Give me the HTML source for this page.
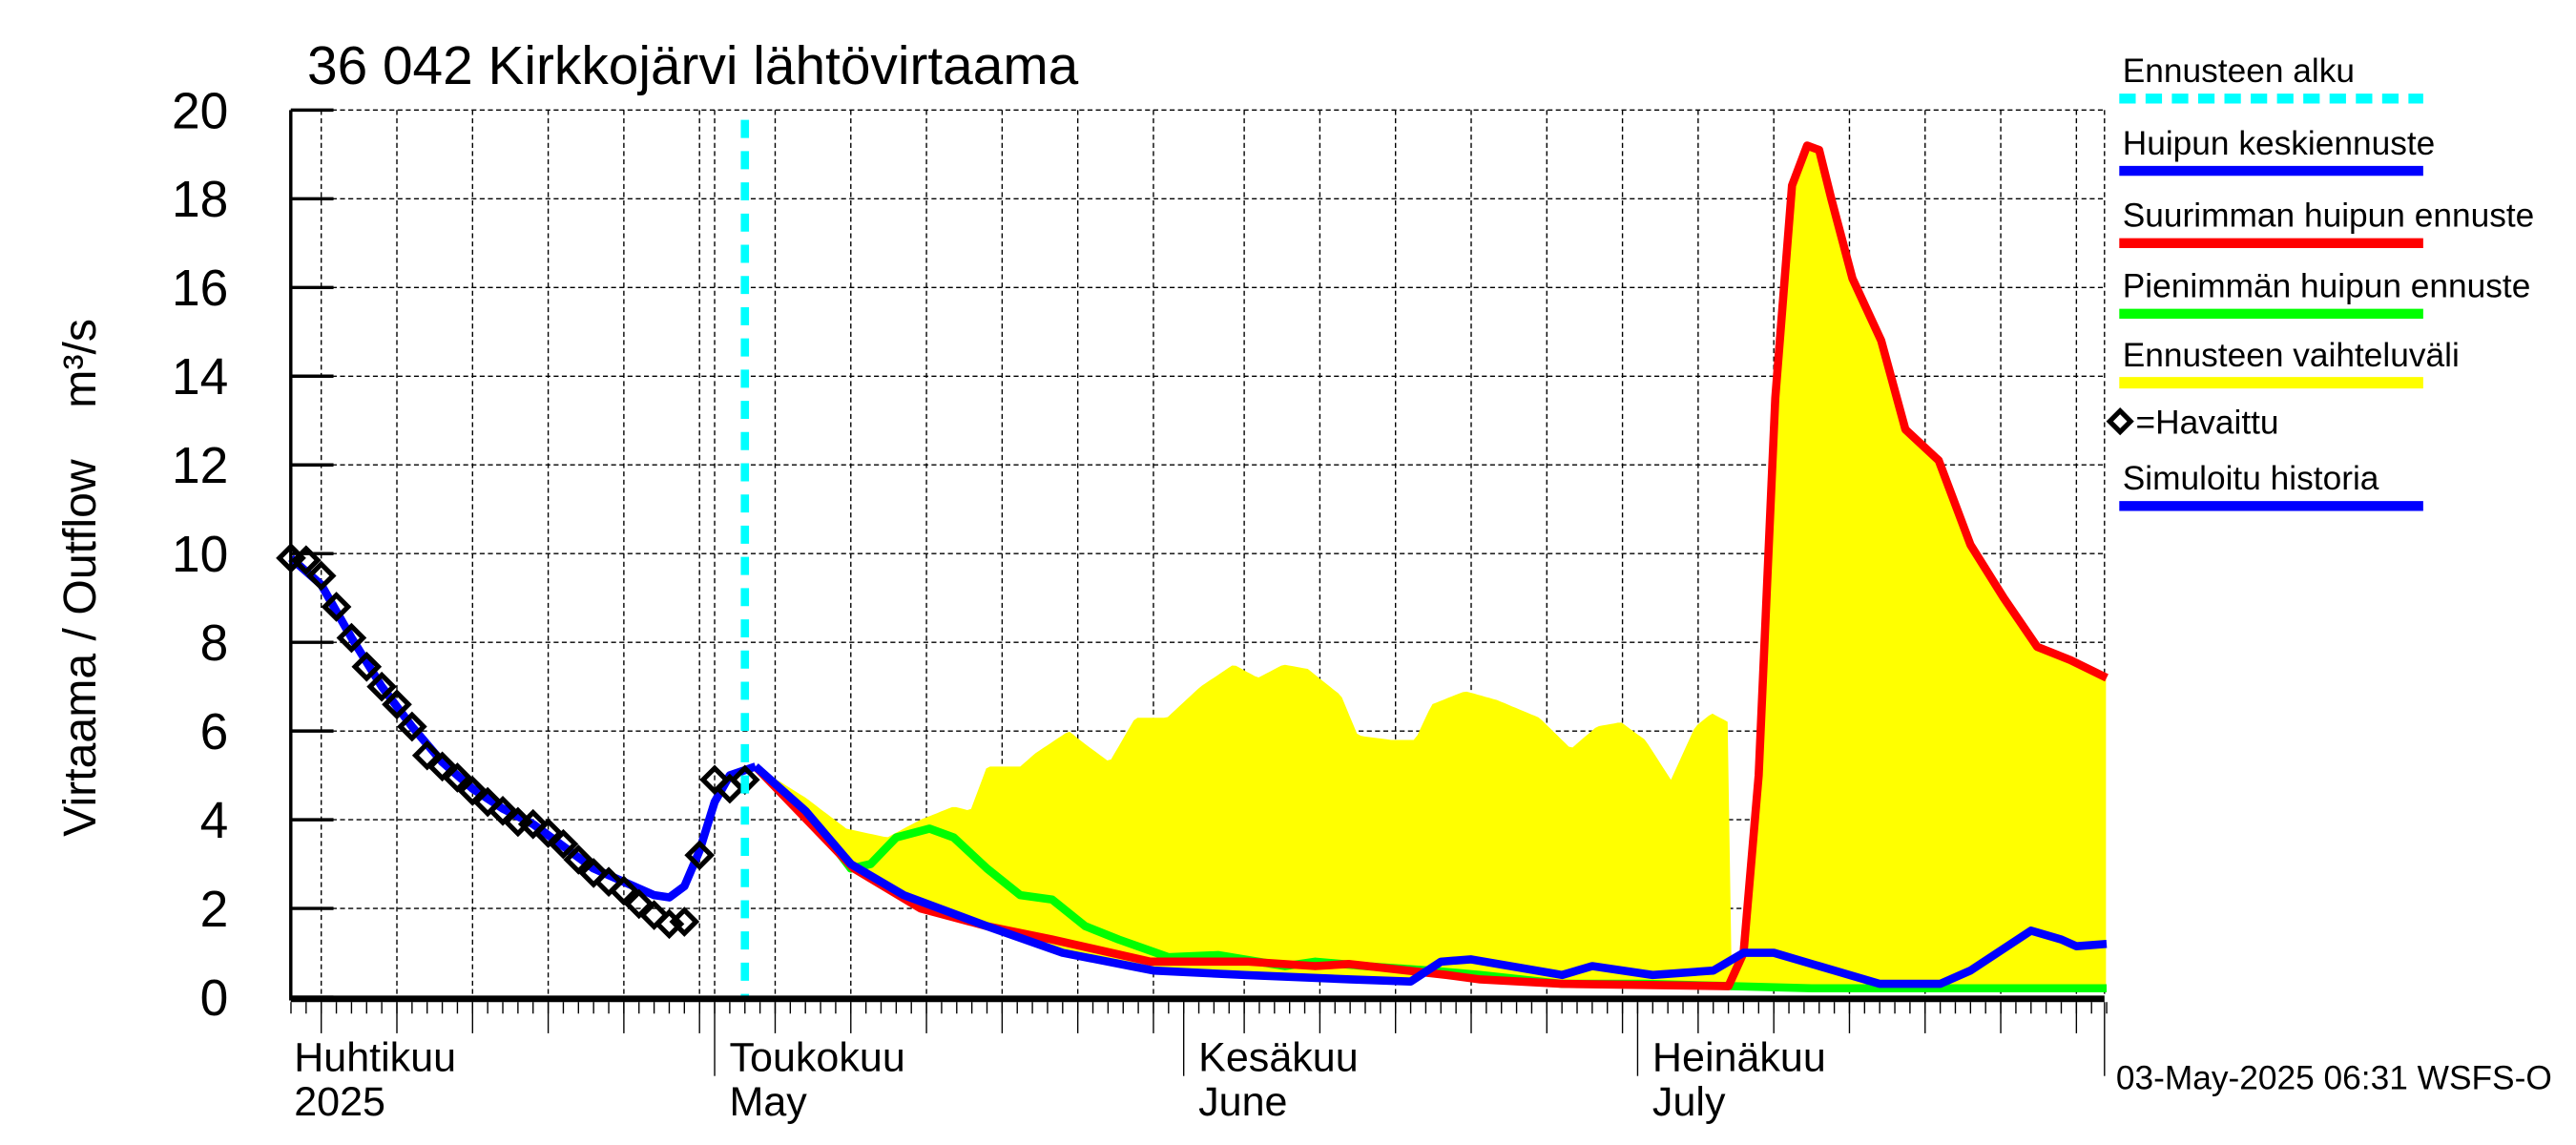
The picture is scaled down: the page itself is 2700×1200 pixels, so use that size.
<!DOCTYPE html>
<html><head><meta charset="utf-8"><style>
html,body{margin:0;padding:0;background:#fff;}
svg{display:block;font-family:"Liberation Sans",sans-serif;}
</style></head><body>
<svg id="chart" width="2700" height="1200" viewBox="0 0 1568 697" preserveAspectRatio="none" xmlns="http://www.w3.org/2000/svg">
<rect width="1568" height="697" fill="#fff"/>
<g id="grid"></g>
<g id="band"></g>
<g id="lines"></g>
<g id="axes"></g>
<text x="187" y="51" font-size="33">36 042 Kirkkojärvi lähtövirtaama</text>
<text transform="translate(58 194) rotate(-90)" text-anchor="end" font-size="28" xml:space="preserve">Virtaama / Outflow    m³/s</text>
<text x="1288" y="663" font-size="20.5">03-May-2025 06:31 WSFS-O</text>
<g id="legend"></g>
</svg>
<script>
// day offsets relative to 1 May 2025
const obsDays=[-28,-27,-26,-25,-24,-23,-22,-21,-20,-19,-18,-17,-16,-15,-14,-13,-12,-11,-10,-9,-8,-7,-6,-5,-4,-3,-2,-1,0,1,2];
const obsVals=[9.9,9.85,9.5,8.8,8.1,7.45,7.0,6.6,6.1,5.45,5.2,4.95,4.65,4.4,4.2,3.95,3.9,3.7,3.45,3.1,2.8,2.6,2.4,2.1,1.85,1.65,1.7,3.2,4.9,4.7,4.9];
const histDays=[-28,-26,-24,-22,-20,-18,-16,-14,-12,-10,-8,-6,-4,-3,-2,-1,0,1,2.7];
const histVals=[9.9,9.3,8.1,7.0,6.1,5.3,4.7,4.25,3.9,3.4,2.9,2.6,2.3,2.25,2.5,3.3,4.4,5.0,5.2];
const meanDays=[2.7,6,9,12.5,18,23,29,35,42,46,48,50,56,58,62,66,68,70,74,77,81,83,87,89,90,92];
const meanVals=[5.2,4.2,3.0,2.3,1.6,1.0,0.6,0.5,0.4,0.35,0.8,0.85,0.5,0.7,0.5,0.6,1.0,1.0,0.6,0.3,0.3,0.6,1.5,1.3,1.15,1.2];
const maxDays=[2.7,9.2,13.6,18,22.3,28.8,35.3,39.7,41.9,48.4,50.6,56,67,68,69,70.1,71.2,72.2,73,73.8,75.2,77.1,78.7,80.9,83,85.2,87.4,89.6,92];
const maxVals=[5.2,2.9,2.0,1.6,1.3,0.8,0.8,0.7,0.75,0.5,0.4,0.3,0.25,1.0,5.0,13.5,18.3,19.2,19.1,18.0,16.2,14.8,12.8,12.1,10.2,9.0,7.9,7.6,7.2];
const minDays=[2.7,7,9,10.3,12,14.2,15.8,18,20.2,22.3,24.5,26.7,30,33.3,37.7,39.7,43,47.3,50.6,56,61.5,72.5,92];
const minVals=[5.2,3.8,2.9,3.0,3.6,3.8,3.6,2.9,2.3,2.2,1.6,1.3,0.9,0.95,0.7,0.8,0.7,0.6,0.5,0.3,0.3,0.2,0.2];
const upDays=[2.7,6,8.7,11.4,13.6,15.8,16.9,18,19.1,20.2,21.2,23.4,24.5,26.1,27.8,29.9,32.1,34.3,35.9,37.6,39.2,41.4,42.5,44.7,46.3,47.4,49.6,51.7,54.5,56.6,58.3,59.9,61.5,63.2,64.8,65.9,67];
const upVals=[5.2,4.5,3.8,3.6,4.0,4.3,4.2,5.2,5.2,5.2,5.5,6.0,5.7,5.3,6.3,6.3,7.0,7.5,7.2,7.5,7.4,6.8,5.9,5.8,5.8,6.6,6.9,6.7,6.3,5.6,6.1,6.2,5.8,4.9,6.1,6.4,6.2];
const yTicks=[0,2,4,6,8,10,12,14,16,18,20];
const monthDays=[-28,0,31,61];
const monthFi=["Huhtikuu","Toukokuu","Kesäkuu","Heinäkuu"];
const monthEn=["2025","May","June","July"];
const gridDays=[-26,-21,-16,-11,-6,-1,4,9,14,19,24,29,35,40,45,50,55,60,65,70,75,80,85,90];
const forecastStart=2;

const NS="http://www.w3.org/2000/svg";
const X0=177,X1=1281,Y0=607,Y1=67;
const xs=d=>435+d*9.21;
const ys=v=>Y0-v*27;
function mk(tag,attrs,parent){const e=document.createElementNS(NS,tag);for(const k in attrs)e.setAttribute(k,attrs[k]);parent.appendChild(e);return e;}
function interp(ds,vs,d){if(d<=ds[0])return vs[0];for(let i=1;i<ds.length;i++){if(d<=ds[i]){const t=(d-ds[i-1])/(ds[i]-ds[i-1]);return vs[i-1]+t*(vs[i]-vs[i-1]);}}return vs[vs.length-1];}
const grid=document.getElementById('grid'),axes=document.getElementById('axes'),lines=document.getElementById('lines'),band=document.getElementById('band'),legend=document.getElementById('legend');

yTicks.forEach(v=>{
  if(v>0){const l=mk('line',{x1:X0,x2:X1,y1:ys(v),y2:ys(v),stroke:'#000','stroke-width':0.8,'stroke-dasharray':'3,2'},grid);
  
  }
  const t=mk('line',{x1:X0,x2:X0+26,y1:ys(v),y2:ys(v),stroke:'#000','stroke-width':2},axes);
  
  
  const tx=mk('text',{x:139,y:ys(v)+11,'text-anchor':'end','font-size':31},axes);
  
  
  tx.textContent=v;
});
gridDays.concat([0]).forEach(d=>{
  const l=mk('line',{x1:xs(d),x2:xs(d),y1:Y1,y2:Y0,stroke:'#000','stroke-width':0.8,'stroke-dasharray':'3,2'},grid);
  
  
});
{const l=mk('line',{x1:X1,x2:X1,y1:Y1,y2:Y0,stroke:'#000','stroke-width':0.8,'stroke-dasharray':'3,2'},grid);

}

// band
const dStart=2.7,dEnd=92;let up=[],lo=[];
for(let d=dStart;d<=dEnd+0.001;d+=0.25){
  const r=interp(maxDays,maxVals,d),g=interp(minDays,minVals,d),m=interp(meanDays,meanVals,d);
  const u=Math.max(d<=67?interp(upDays,upVals,d):0,r,g,m);
  const lw=Math.min(r,g,m);
  up.push(xs(d).toFixed(1)+','+ys(u).toFixed(1));lo.push(xs(d).toFixed(1)+','+ys(lw).toFixed(1));
}
const bp=mk('polygon',{points:up.concat(lo.reverse()).join(' '),fill:'#ffff00'},band);



function poly(ds,vs,color,name){
  const p=mk('polyline',{points:ds.map((d,i)=>xs(d).toFixed(1)+','+ys(vs[i]).toFixed(1)).join(' '),fill:'none',stroke:color,'stroke-width':5,'stroke-linejoin':'round'},lines);
  
  
}
poly(minDays,minVals,'#00ff00','min-peak-forecast-line');
poly(maxDays,maxVals,'#ff0000','max-peak-forecast-line');
poly(meanDays,meanVals,'#0000ff','mean-peak-forecast-line');
poly(histDays,histVals,'#0000ff','simulated-history-line');
obsDays.forEach((d,i)=>{
  const x=xs(d),y=ys(obsVals[i]);
  const r=mk('rect',{x:x-5,y:y-5,width:10,height:10,fill:'none',stroke:'#000','stroke-width':3,transform:`rotate(45 ${x} ${y})`},lines);
  
  
});
{const c=mk('line',{x1:xs(forecastStart),x2:xs(forecastStart),y1:Y1+6,y2:Y0,stroke:'#00ffff','stroke-width':5,'stroke-dasharray':'11,8'},lines);

}

// axes
{const a=mk('line',{x1:X0,x2:X0,y1:Y1,y2:Y0+2,stroke:'#000','stroke-width':2},axes);


const b=mk('line',{x1:X0,x2:X1,y1:Y0+1,y2:Y0+1,stroke:'#000','stroke-width':4},axes);

}
for(let d=-28;d<=92;d++){
  const t=mk('line',{x1:xs(d),x2:xs(d),y1:Y0+3,y2:Y0+10,stroke:'#000','stroke-width':0.8},axes);
  
  
}
gridDays.forEach(d=>{
  const t=mk('line',{x1:xs(d),x2:xs(d),y1:Y0+3,y2:Y0+22,stroke:'#000','stroke-width':0.8},axes);
  
  
});
monthDays.forEach((d,i)=>{
  const x=d<0?177:xs(d);
  if(d>=0){const t=mk('line',{x1:x,x2:x,y1:Y0+3,y2:Y0+48,stroke:'#000','stroke-width':0.8},axes);
  
  }
  const lx=d<0?179:x+9;
  const a=mk('text',{x:lx,y:652,'font-size':25},axes);
  
  
  a.textContent=monthFi[i];
  const b=mk('text',{x:lx,y:679,'font-size':25},axes);
  
  
  b.textContent=monthEn[i];
});
{const t=mk('line',{x1:X1,x2:X1,y1:Y0+3,y2:Y0+48,stroke:'#000','stroke-width':0.8},axes);

}

// legend
const legItems=[["Ennusteen alku",'#00ffff',50,true],["Huipun keskiennuste",'#0000ff',94],["Suurimman huipun ennuste",'#ff0000',138],["Pienimmän huipun ennuste",'#00ff00',181],["Ennusteen vaihteluväli",'#ffff00',223],["Simuloitu historia",'#0000ff',298]];
legItems.forEach(it=>{
  const t=mk('text',{x:1292,y:it[2],'font-size':20.5},legend);
  
  
  t.textContent=it[0];
  const l=mk('line',{x1:1290,x2:1475,y1:it[2]+10,y2:it[2]+10,stroke:it[1],'stroke-width':it[1]==='#ffff00'?7:6},legend);
  if(it[3])l.setAttribute('stroke-dasharray','10,6');
  
  
});
{const r=mk('rect',{x:1286,y:252,width:9,height:9,fill:'none',stroke:'#000','stroke-width':3,transform:'rotate(45 1290.5 256.5)'},legend);


const t=mk('text',{x:1300,y:264,'font-size':20.5},legend);


t.textContent='=Havaittu';}
</script>
</body></html>
